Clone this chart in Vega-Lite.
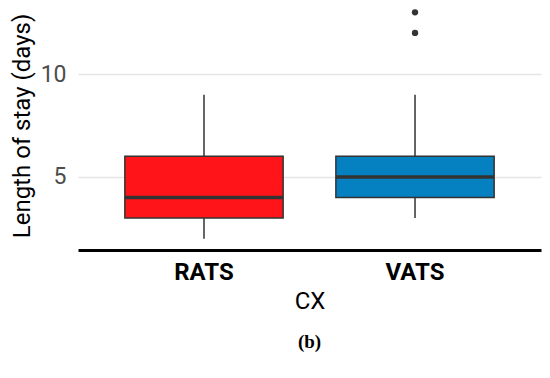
{
  "$schema": "https://vega.github.io/schema/vega-lite/v6.json",
  "autosize": {"type": "none"},
  "padding": {"left": 78, "top": 1, "right": 9, "bottom": 128},
  "width": 463,
  "height": 249,
  "background": "white",
  "title": {
    "text": "(b)",
    "orient": "bottom",
    "font": "Liberation Serif",
    "fontSize": 19,
    "fontWeight": "bold",
    "color": "black",
    "anchor": "middle",
    "offset": 20,
    "frame": "group"
  },
  "datasets": {
    "stats": [
      {"group": "RATS", "lower": 2, "q1": 3, "median": 4, "q3": 6, "upper": 9},
      {"group": "VATS", "lower": 3, "q1": 4, "median": 5, "q3": 6, "upper": 9}
    ],
    "outliers": [
      {"group": "VATS", "value": 12},
      {"group": "VATS", "value": 13}
    ]
  },
  "encoding": {
    "x": {
      "field": "group",
      "type": "nominal",
      "scale": {"domain": ["RATS", "VATS"], "paddingInner": 0.25, "paddingOuter": 0.222},
      "axis": {
        "title": "CX",
        "titleFont": "Roboto",
        "titleFontSize": 24,
        "titleFontWeight": "normal",
        "titleColor": "black",
        "titlePadding": 5,
        "labelFont": "Roboto",
        "labelFontSize": 24,
        "labelFontWeight": "bold",
        "labelColor": "black",
        "labelAngle": 0,
        "labelPadding": 10,
        "ticks": false,
        "grid": false,
        "domain": true,
        "domainColor": "black",
        "domainWidth": 3
      }
    }
  },
  "layer": [
    {
      "data": {"name": "stats"},
      "mark": {"type": "rule", "color": "#333333", "strokeWidth": 1.5},
      "encoding": {
        "y": {
          "field": "lower",
          "type": "quantitative",
          "scale": {"domain": [1.45, 13.55], "nice": false, "zero": false},
          "axis": {
            "title": "Length of stay (days)",
            "titleFont": "Roboto",
            "titleFontSize": 24,
            "titleFontWeight": "normal",
            "titleColor": "black",
            "titlePadding": 6,
            "values": [5, 10],
            "labelFont": "Roboto",
            "labelFontSize": 23,
            "labelColor": "#4D4D4D",
            "labelPadding": 12,
            "ticks": false,
            "domain": false,
            "grid": true,
            "gridColor": "#E5E5E5",
            "gridWidth": 1.5
          }
        },
        "y2": {"field": "upper"}
      }
    },
    {
      "data": {"name": "stats"},
      "mark": {"type": "bar", "stroke": "#333333", "strokeWidth": 1.5},
      "encoding": {
        "y": {"field": "q1", "type": "quantitative"},
        "y2": {"field": "q3"},
        "color": {
          "field": "group",
          "type": "nominal",
          "scale": {"domain": ["RATS", "VATS"], "range": ["#FF1419", "#0580C0"]},
          "legend": null
        }
      }
    },
    {
      "data": {"name": "stats"},
      "mark": {"type": "tick", "color": "#333333", "thickness": 3.5, "size": 158, "opacity": 1},
      "encoding": {
        "y": {"field": "median", "type": "quantitative"}
      }
    },
    {
      "data": {"name": "outliers"},
      "mark": {"type": "circle", "color": "#333333", "size": 40, "opacity": 1},
      "encoding": {
        "y": {"field": "value", "type": "quantitative"}
      }
    }
  ],
  "config": {
    "view": {"stroke": null}
  }
}
